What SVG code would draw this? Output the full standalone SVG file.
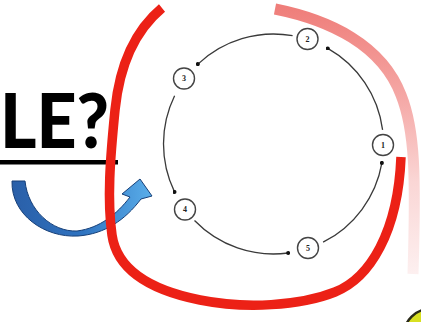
<svg xmlns="http://www.w3.org/2000/svg" width="421" height="322" viewBox="0 0 421 322">
  <defs>
    <linearGradient id="blueGrad" gradientUnits="userSpaceOnUse" x1="12" y1="200" x2="152" y2="200">
      <stop offset="0" stop-color="#2a5fa8"/>
      <stop offset="0.5" stop-color="#2f73c0"/>
      <stop offset="1" stop-color="#5aaeea"/>
    </linearGradient>
    <linearGradient id="pinkGrad" gradientUnits="userSpaceOnUse" x1="0" y1="8" x2="0" y2="275">
      <stop offset="0" stop-color="#ef7e7a"/>
      <stop offset="0.35" stop-color="#f5aaa8"/>
      <stop offset="0.65" stop-color="#fad6d5"/>
      <stop offset="1" stop-color="#fdf0f0"/>
    </linearGradient>
    <marker id="dot" viewBox="0 0 4 4" refX="2" refY="2" markerWidth="4" markerHeight="4" markerUnits="userSpaceOnUse">
      <circle cx="2" cy="2" r="2" fill="#111"/>
    </marker>
    <style>
      .node circle { fill: #fff; stroke: #444; stroke-width: 1.4; }
      .node text { font-family: "Liberation Serif", serif; font-size: 8px; font-weight: bold; fill: #222; text-anchor: middle; dominant-baseline: central; }
      .arc { fill: none; stroke: #3a3a3a; stroke-width: 1.3; marker-end: url(#dot); }
    </style>
  </defs>
  <rect width="421" height="322" fill="#fff"/>

  <!-- heading fragment -->
  <g id="heading">
    <text x="0" y="148" font-family="Lato, 'Open Sans', sans-serif" font-weight="900" font-size="77" fill="#000" textLength="109" lengthAdjust="spacingAndGlyphs">LE?</text>
    <rect x="0" y="160" width="118" height="4.5" fill="#000"/>
  </g>

  <!-- blue curved arrow -->
  <g id="blue-arrow">
    <path d="M12,181 C11,215 45,238 78,236 C105,234 125,220 141,199 L152,196 L140,179 L122,194 L130,197 C117,214 100,228 77,231 C52,232 28,210 25,181 Z" fill="url(#blueGrad)" stroke="#163f78" stroke-width="1"/>
  </g>

  <!-- faded pink stroke -->
  <path id="pink-stroke" d="M275,9 C330,20 382,45 401,95 C415,130 416,175 413,274" fill="none" stroke="url(#pinkGrad)" stroke-width="11"/>

  <!-- connectors -->
  <g id="connectors">
    <path class="arc" d="M382.6,129.8 A110,110 0 0 0 327.8,48.4"/>
    <path class="arc" d="M292.6,35.7 A110,110 0 0 0 197.9,64.1"/>
    <path class="arc" d="M174.6,95.8 A110,110 0 0 0 174.5,191.9"/>
    <path class="arc" d="M194.5,220.5 A110,110 0 0 0 288.1,253.0"/>
    <path class="arc" d="M323.1,242.2 A110,110 0 0 0 381.9,162.9"/>
  </g>

  <!-- nodes -->
  <g id="node1" class="node"><circle cx="383" cy="145" r="10.5"/><text x="383" y="145">1</text></g>
  <g id="node2" class="node"><circle cx="307.5" cy="39" r="10.5"/><text x="307.5" y="39">2</text></g>
  <g id="node3" class="node"><circle cx="184" cy="78.5" r="10.5"/><text x="184" y="78.5">3</text></g>
  <g id="node4" class="node"><circle cx="185" cy="209.5" r="10.5"/><text x="185" y="209.5">4</text></g>
  <g id="node5" class="node"><circle cx="308" cy="248" r="10.5"/><text x="308" y="248">5</text></g>

  <!-- red hand-drawn stroke -->
  <path id="red-stroke" d="M162,8 C138,28 120,60 115,110 S107,200 112,235 C117,270 150,290 200,300 C245,309 300,306 335,292 C370,278 398,232 401,157" fill="none" stroke="#ec2116" stroke-width="9.5" stroke-linecap="butt"/>

  <!-- yellow shape at corner -->
  <circle id="yellow-corner" cx="430" cy="335" r="26" fill="#d8e021" stroke="#2a2a1a" stroke-width="2.5"/>
</svg>
